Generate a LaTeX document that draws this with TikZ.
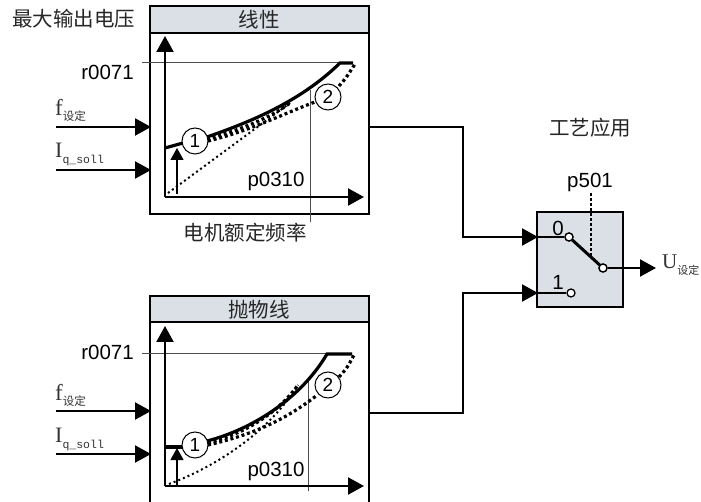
\documentclass[tikz,border=0pt]{standalone}
\usepackage{fontspec}
\setmainfont{Liberation Serif}
\setsansfont{Liberation Sans}
\setmonofont{Liberation Mono}
\newfontfamily\cjk{Noto Sans CJK SC}
\usetikzlibrary{arrows.meta}
\definecolor{hdr}{RGB}{218,224,230}
\begin{document}
\begin{tikzpicture}[x=1pt,y=-1pt,
  box/.style={draw,line width=2.4pt},
  hdrbox/.style={draw,line width=2.4pt,fill=hdr},
  conn/.style={line width=2.1pt,-{Triangle[length=16pt,width=17pt]}},
  wire/.style={line width=1.8pt},
  thinl/.style={line width=1pt,black!70},
  curve/.style={line width=3.2pt},
  tdot/.style={line width=3.2pt,dash pattern=on 3pt off 2.8pt},
  ndot/.style={line width=2pt,dash pattern=on 2pt off 3pt},
  num/.style={circle,draw,line width=1pt,fill=white,minimum size=26pt,inner sep=0pt,font=\sffamily\fontsize{19}{19}\selectfont},
  lab/.style={inner sep=0pt,font=\sffamily\fontsize{20.5}{20.5}\selectfont},
  cjklab/.style={inner sep=0pt,text=black!85,font=\cjk\fontsize{20.5}{20.5}\selectfont},
  sig/.style={inner sep=0pt,anchor=base west,text=black!80},
  smallarrow/.style={line width=1.1pt,-{Triangle[length=12pt,width=13pt]}},
  term/.style={circle,draw,line width=1.3pt,fill=white,minimum size=8pt,inner sep=0pt},
]
\useasboundingbox (0,0) rectangle (701,502);
\fill[white] (0,0) rectangle (701,502);

% ---------- top box (linear) ----------
\draw[box] (150,6) rectangle (369,214);
\draw[hdrbox] (150,6) rectangle (369,33);
\node[cjklab] (t1) at (259,19.5) {线性};
\node[cjklab] (maxv) at (74,19) {最大输出电压};

\coordinate (o1) at (165,197);
\coordinate (y1) at (165,36);
\coordinate (x1) at (364,197);
\draw[thinl] (142,63) -- (348,63);
\node[lab,anchor=east] (r1) at (134,72) {r0071};
\draw[thinl] (310,90) -- (310,222);
\node[lab] (p1) at (276,181) {p0310};
\node[cjklab] (mf) at (245,233) {电机额定频率};

\draw[ndot] (168,193) -- (290,103);
\draw[tdot] (207,139) .. controls (240,130) and (270,118) .. (290,103);
\draw[tdot] (208,141) .. controls (250,131) and (285,113) .. (315,102);
\draw[tdot] (339,86) .. controls (346,78) .. (355,64);
\draw[curve] (165,148) -- (183,143);
\draw[curve] (207,137) .. controls (250,122) and (300,102) .. (340,63) -- (353,63);
\node[num] (c11) at (195,141) {1};
\node[num] (c12) at (328,97) {2};
\draw[smallarrow] (177,194) -- (177,148);
\draw[conn] (o1) -- (y1);
\draw[conn] (o1) -- (x1);

\coordinate (fin1) at (56,127);
\coordinate (fbox1) at (151,127);
\coordinate (iin1) at (56,170);
\coordinate (ibox1) at (151,170);
\draw[conn] (fin1) -- (fbox1);
\draw[conn] (iin1) -- (ibox1);
\node[sig] (f1) at (55,116) {\fontsize{23}{23}\selectfont f\raisebox{-5pt}{\cjk\fontsize{11.5}{11.5}\selectfont 设定}};
\node[sig] (i1) at (55,158) {\fontsize{22}{22}\selectfont I\raisebox{-6pt}{\ttfamily\fontsize{11.5}{11.5}\selectfont q\_soll}};

% ---------- bottom box (parabolic) ----------
\draw[box] (150,296) rectangle (369,512);
\draw[hdrbox] (150,296) rectangle (369,322);
\node[cjklab] (t2) at (259,309.5) {抛物线};

\coordinate (o2) at (165,486);
\coordinate (y2) at (165,326);
\coordinate (x2) at (364,486);
\draw[thinl] (142,353) -- (330,353);
\node[lab,anchor=east] (r2) at (134,352) {r0071};
\draw[thinl] (308,377) -- (308,491);
\node[lab] (p2) at (276,471) {p0310};

\draw[ndot] (169,484) .. controls (220,465) and (270,430) .. (298,385);
\draw[tdot] (208,443) .. controls (250,432) and (280,410) .. (298,385);
\draw[tdot] (208,445) .. controls (260,433) and (290,416) .. (316,396);
\draw[tdot] (339,377) .. controls (347,368) .. (354,355);
\draw[curve] (165,447) -- (183,447);
\draw[curve] (207,441) .. controls (250,430) and (300,400) .. (327,354) -- (352,354);
\node[num] (c21) at (195,445) {1};
\node[num] (c22) at (328,385) {2};
\draw[smallarrow] (177,485) -- (177,448);
\draw[conn] (o2) -- (y2);
\draw[conn] (o2) -- (x2);

\coordinate (fin2) at (56,411);
\coordinate (fbox2) at (151,411);
\coordinate (iin2) at (56,454);
\coordinate (ibox2) at (151,454);
\draw[conn] (fin2) -- (fbox2);
\draw[conn] (iin2) -- (ibox2);
\node[sig] (f2) at (55,400) {\fontsize{23}{23}\selectfont f\raisebox{-5pt}{\cjk\fontsize{11.5}{11.5}\selectfont 设定}};
\node[sig] (i2) at (55,442) {\fontsize{22}{22}\selectfont I\raisebox{-6pt}{\ttfamily\fontsize{11.5}{11.5}\selectfont q\_soll}};

% ---------- switch ----------
\node[cjklab] (tech) at (590,128) {工艺应用};
\node[lab] (p501) at (590,182) {p501};
\draw[line width=2pt,fill=hdr] (537,212) rectangle (623,307);
\coordinate (sw0) at (538,237);
\coordinate (sw1) at (538,293);
\coordinate (linout) at (369,127);
\coordinate (parout) at (369,413);
\draw[conn] (linout) -- (463,127) -- (463,237) -- (sw0);
\draw[conn] (parout) -- (463,413) -- (463,293) -- (sw1);
\node[lab] (l0) at (558,228) {0};
\node[lab] (l1) at (558,282) {1};
\draw[line width=1.1pt,dash pattern=on 3pt off 2pt] (591,193) -- (591,257);
\node[term] (s0) at (569,237) {};
\node[term] (s1) at (571,293) {};
\node[term] (sc) at (603,268) {};
\draw[wire] (sw0) -- (s0);
\draw[wire] (sw1) -- (s1);
\draw[line width=3pt] (s0) -- (sc);
\node[term] at (s0) {};
\node[term] at (sc) {};
\coordinate (uout) at (656,268);
\draw[conn] (sc) -- (uout);
\node[sig] (u) at (662,269) {\fontsize{21}{21}\selectfont U\raisebox{-6pt}{\cjk\fontsize{11}{11}\selectfont 设定}};
\end{tikzpicture}
\end{document}
